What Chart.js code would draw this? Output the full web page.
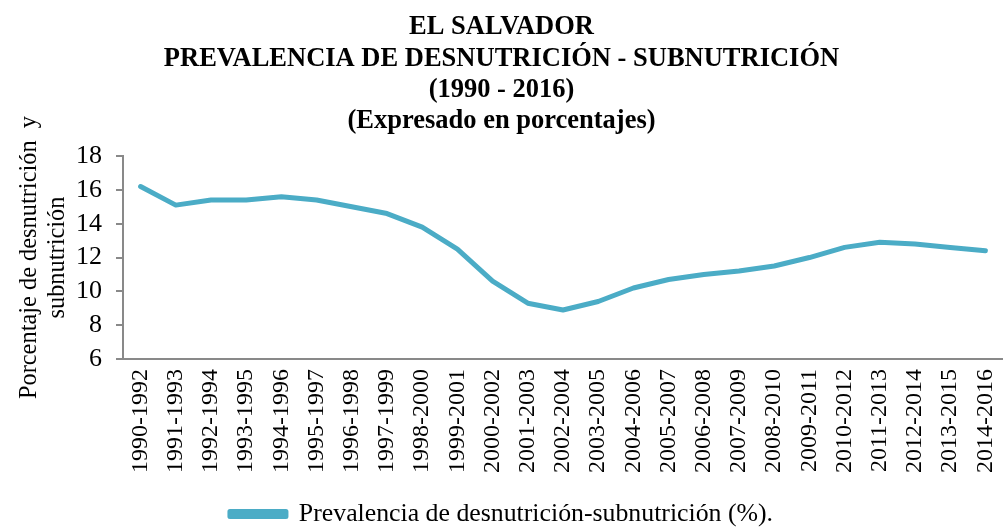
<!DOCTYPE html>
<html>
<head>
<meta charset="utf-8">
<script src="https://cdn.jsdelivr.net/npm/chart.js@4/dist/chart.umd.min.js"></script>
<style>
  html, body { margin: 0; padding: 0; background: #fff; }
  #wrap { width: 1003px; height: 531px; position: relative; }
</style>
</head>
<body>
<div id="wrap"><canvas id="chart"></canvas></div>
<script>
var periods = [
  '1990-1992', '1991-1993', '1992-1994', '1993-1995', '1994-1996',
  '1995-1997', '1996-1998', '1997-1999', '1998-2000', '1999-2001',
  '2000-2002', '2001-2003', '2002-2004', '2003-2005', '2004-2006',
  '2005-2007', '2006-2008', '2007-2009', '2008-2010', '2009-2011',
  '2010-2012', '2011-2013', '2012-2014', '2013-2015', '2014-2016'
];
var prevalence = [
  16.2, 15.1, 15.4, 15.4, 15.6,
  15.4, 15.0, 14.6, 13.8, 12.5,
  10.6, 9.3, 8.9, 9.4, 10.2,
  10.7, 11.0, 11.2, 11.5, 12.0,
  12.6, 12.9, 12.8, 12.6, 12.4
];
var seriesName = 'Prevalencia de desnutrición-subnutrición (%).';
var titleLines = [
  'EL SALVADOR',
  'PREVALENCIA DE DESNUTRICIÓN - SUBNUTRICIÓN',
  '(1990 - 2016)',
  '(Expresado en porcentajes)'
];
var yTitleLines = ['Porcentaje de desnutrición  y', 'subnutrición'];

(function () {
  var serif = "'Liberation Serif', 'Times New Roman', serif";
  var lineColor = '#4BACC6';
  var axisColor = '#898989';

  var ctx = document.getElementById('chart').getContext('2d');
  new Chart(ctx, {
    type: 'line',
    data: {
      labels: periods,
      datasets: [
        {
          label: seriesName,
          data: prevalence,
          borderColor: lineColor,
          backgroundColor: lineColor,
          borderWidth: 5,
          borderCapStyle: 'round',
          borderJoinStyle: 'round',
          pointRadius: 0,
          tension: 0,
          fill: false,
        },
      ],
    },
    options: {
      responsive: true,
      maintainAspectRatio: false,
      animation: false,
      layout: { padding: 0 },
      plugins: {
        title: {
          display: true,
          text: titleLines,
          color: '#000',
          font: { family: serif, size: 26.5, weight: 'bold', lineHeight: 1.18 },
          padding: { top: 12, bottom: 19 },
        },
        legend: {
          position: 'bottom',
          // legend adds 10px of its own; cap it so the row sits low like the original
          maxHeight: 30,
          labels: {
            color: '#000',
            font: { family: serif, size: 25.8 },
            boxWidth: 56,
            boxHeight: 5,
            padding: 0,
          },
        },
        tooltip: { enabled: false },
      },
      scales: {
        x: {
          offset: true,
          grid: { display: false, drawTicks: false },
          border: { display: true, color: axisColor, width: 2 },
          ticks: {
            color: '#000',
            font: { family: serif, size: 24 },
            maxRotation: 90,
            minRotation: 90,
            autoSkip: false,
            padding: 10,
          },
          afterFit: function (scale) {
            // keep the plot running to the right edge, like the original
            scale.height = 142;
            scale.paddingRight = 0;
          },
        },
        y: {
          min: 6,
          max: 18,
          grid: {
            display: true,
            drawOnChartArea: false,
            drawTicks: true,
            tickLength: 7,
            color: axisColor,
            lineWidth: 2,
          },
          border: { display: true, color: axisColor, width: 2 },
          ticks: {
            stepSize: 2,
            autoSkip: false,
            color: '#000',
            font: { family: serif, size: 26 },
            padding: 14,
          },
          title: {
            display: true,
            text: yTitleLines,
            color: '#000',
            font: { family: serif, size: 24.4, lineHeight: 1.15 },
            padding: { top: 16, bottom: 0 },
          },
          afterFit: function (scale) {
            scale.width = 123;
          },
        },
      },
    },
  });
})();
</script>
</body>
</html>
